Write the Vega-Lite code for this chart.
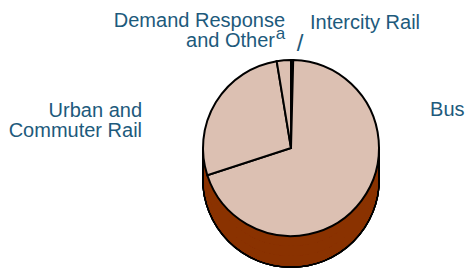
{
  "$schema": "https://vega.github.io/schema/vega-lite/v6.json",
  "width": 348,
  "height": 236,
  "autosize": "none",
  "padding": {"left": 117, "top": 30, "right": 0, "bottom": 3},
  "background": "white",
  "config": {"view": {"stroke": null}},
  "data": {"values": [
    {"cat": "Intercity Rail", "value": 0.4, "rank": 1},
    {"cat": "Bus", "value": 69.6, "rank": 2},
    {"cat": "Urban and Commuter Rail", "value": 27.4, "rank": 3},
    {"cat": "Demand Response and Other", "value": 2.6, "rank": 4}
  ]},
  "layer": [
    {"mark": {"type": "arc", "radius": 88, "yOffset": 31, "fill": "#8A3200", "stroke": "black", "strokeWidth": 2}, "encoding": {}},
    {"mark": {"type": "arc", "radius": 88, "yOffset": 21, "fill": "#8A3200", "stroke": "black", "strokeWidth": 2}, "encoding": {}},
    {"mark": {"type": "arc", "radius": 88, "yOffset": 11, "fill": "#8A3200", "stroke": "black", "strokeWidth": 2}, "encoding": {}},
    {"mark": {"type": "arc", "radius": 87, "yOffset": 31, "fill": "#8A3200", "strokeWidth": 0}, "encoding": {}},
    {"mark": {"type": "arc", "radius": 87, "yOffset": 21, "fill": "#8A3200", "strokeWidth": 0}, "encoding": {}},
    {"mark": {"type": "arc", "radius": 87, "yOffset": 11, "fill": "#8A3200", "strokeWidth": 0}, "encoding": {}},
    {
      "mark": {"type": "arc", "radius": 88, "fill": "#DCC0B2", "stroke": "black", "strokeWidth": 2},
      "encoding": {
        "theta": {"field": "value", "type": "quantitative", "stack": true},
        "order": {"field": "rank", "type": "quantitative"}
      }
    },
    {
      "mark": {"type": "text", "radius": 88, "text": "/", "align": "center", "baseline": "alphabetic", "dx": 7.9, "dy": -9, "font": "Liberation Sans", "fontSize": 24, "fill": "#1D5A7C"},
      "encoding": {
        "theta": {"field": "value", "type": "quantitative", "stack": true},
        "order": {"field": "rank", "type": "quantitative"},
        "opacity": {"condition": {"test": "datum.cat === 'Intercity Rail'", "value": 1}, "value": 0}
      }
    },
    {
      "mark": {"type": "text", "radius": 88, "text": "Bus", "align": "left", "baseline": "alphabetic", "dx": 68.5, "dy": -84.6, "font": "Liberation Sans", "fontSize": 20, "fill": "#1D5A7C"},
      "encoding": {
        "theta": {"field": "value", "type": "quantitative", "stack": true},
        "order": {"field": "rank", "type": "quantitative"},
        "opacity": {"condition": {"test": "datum.cat === 'Bus'", "value": 1}, "value": 0}
      }
    },
    {
      "mark": {"type": "text", "radius": 88, "text": ["Urban and", "Commuter Rail"], "lineHeight": 20, "align": "right", "baseline": "alphabetic", "dx": -73.8, "dy": 14.4, "font": "Liberation Sans", "fontSize": 20, "fill": "#1D5A7C"},
      "encoding": {
        "theta": {"field": "value", "type": "quantitative", "stack": true},
        "order": {"field": "rank", "type": "quantitative"},
        "opacity": {"condition": {"test": "datum.cat === 'Urban and Commuter Rail'", "value": 1}, "value": 0}
      }
    },
    {
      "mark": {"type": "text", "radius": 88, "text": "Demand Response", "align": "right", "baseline": "alphabetic", "dx": 1.2, "dy": -33.6, "font": "Liberation Sans", "fontSize": 20, "fill": "#1D5A7C"},
      "encoding": {
        "theta": {"field": "value", "type": "quantitative", "stack": true},
        "order": {"field": "rank", "type": "quantitative"},
        "opacity": {"condition": {"test": "datum.cat === 'Demand Response and Other'", "value": 1}, "value": 0}
      }
    },
    {
      "mark": {"type": "text", "radius": 88, "text": "and Other", "align": "right", "baseline": "alphabetic", "dx": -8.8, "dy": -13.6, "font": "Liberation Sans", "fontSize": 20, "fill": "#1D5A7C"},
      "encoding": {
        "theta": {"field": "value", "type": "quantitative", "stack": true},
        "order": {"field": "rank", "type": "quantitative"},
        "opacity": {"condition": {"test": "datum.cat === 'Demand Response and Other'", "value": 1}, "value": 0}
      }
    },
    {
      "mark": {"type": "text", "radius": 88, "text": "a", "align": "left", "baseline": "alphabetic", "dx": -8, "dy": -21.5, "font": "Liberation Sans", "fontSize": 17, "fill": "#1D5A7C"},
      "encoding": {
        "theta": {"field": "value", "type": "quantitative", "stack": true},
        "order": {"field": "rank", "type": "quantitative"},
        "opacity": {"condition": {"test": "datum.cat === 'Demand Response and Other'", "value": 1}, "value": 0}
      }
    },
    {
      "mark": {"type": "text", "radius": 88, "text": "Intercity Rail", "align": "left", "baseline": "alphabetic", "dx": 17.9, "dy": -31, "font": "Liberation Sans", "fontSize": 20, "fill": "#1D5A7C"},
      "encoding": {
        "theta": {"field": "value", "type": "quantitative", "stack": true},
        "order": {"field": "rank", "type": "quantitative"},
        "opacity": {"condition": {"test": "datum.cat === 'Intercity Rail'", "value": 1}, "value": 0}
      }
    }
  ]
}
